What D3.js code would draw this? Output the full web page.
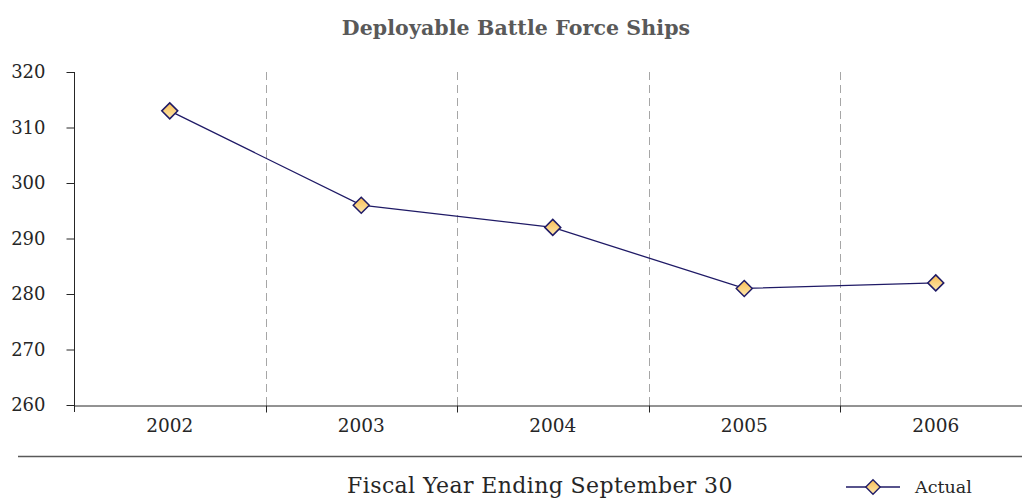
<!DOCTYPE html>
<html>
<head>
<meta charset="utf-8">
<script src="https://cdn.jsdelivr.net/npm/d3@7"></script>
<style>
  body { margin: 0; background: #fff; }
  text { font-family: "DejaVu Serif", serif; }
</style>
</head>
<body>
<svg id="chart" width="1022" height="501"></svg>
<script>
const years = ['2002', '2003', '2004', '2005', '2006'];
const actual = [313, 296, 292, 281, 282];
const yTicks = [260, 270, 280, 290, 300, 310, 320];

const svg = d3.select('#chart');
const margin = { left: 74, top: 72, bottom: 405 };
const bandW = 191.5;

const x = d3.scaleBand()
  .domain(years)
  .range([margin.left, margin.left + bandW * years.length]);
const y = d3.scaleLinear().domain([260, 320]).range([margin.bottom, margin.top]);

// gradient for the diamond markers
const grad = svg.append('defs').append('linearGradient')
  .attr('id', 'mk').attr('x1', 0).attr('y1', 0).attr('x2', 0).attr('y2', 1);
grad.append('stop').attr('offset', '0%').attr('stop-color', '#f9bd55');
grad.append('stop').attr('offset', '100%').attr('stop-color', '#fde8ae');

// title
svg.append('text')
  .attr('x', 516).attr('y', 35)
  .attr('text-anchor', 'middle')
  .attr('font-size', 20.5).attr('font-weight', 'bold')
  .attr('letter-spacing', 0.1)
  .attr('fill', '#595959')
  .text('Deployable Battle Force Ships');

// dashed dividers between categories
svg.append('g')
  .selectAll('line')
  .data(years.slice(1))
  .join('line')
    .attr('x1', (d) => Math.round(x(d)) + 0.5)
    .attr('x2', (d) => Math.round(x(d)) + 0.5)
    .attr('y1', margin.top)
    .attr('y2', margin.bottom)
    .attr('stroke', '#a6a6a6')
    .attr('stroke-dasharray', '8,5');

// y axis
const yAxis = svg.append('g')
  .attr('transform', `translate(${margin.left + 0.5},0)`)
  .call(d3.axisLeft(y).tickValues(yTicks).tickSize(8).tickPadding(21));
yAxis.select('.domain').attr('stroke', '#262626').attr('d', `M0,${margin.top}V${margin.bottom + 7}`);
yAxis.selectAll('.tick line').attr('stroke', '#262626');
yAxis.selectAll('text')
  .attr('font-size', 18).attr('fill', '#262626')
  .attr('font-family', '"DejaVu Serif", serif');

// x axis
const xAxis = svg.append('g')
  .attr('transform', `translate(0,${margin.bottom + 0.5})`)
  .call(d3.axisBottom(x).tickSize(0).tickPadding(13));
xAxis.select('.domain').attr('stroke', '#262626');
xAxis.selectAll('text')
  .attr('font-size', 18.5).attr('fill', '#262626')
  .attr('font-family', '"DejaVu Serif", serif');
xAxis.selectAll('.divtick')
  .data(years.slice(1))
  .join('line')
    .attr('class', 'divtick')
    .attr('x1', (d) => Math.round(x(d)) + 0.5)
    .attr('x2', (d) => Math.round(x(d)) + 0.5)
    .attr('y1', 0).attr('y2', 7)
    .attr('stroke', '#262626');

// series line
const cx = (d, i) => x(years[i]) + x.bandwidth() / 2;
svg.append('path')
  .datum(actual)
  .attr('fill', 'none')
  .attr('stroke', '#1f1a66')
  .attr('stroke-width', 1.3)
  .attr('d', d3.line().x(cx).y((d) => y(d)));

const diamond = 'M0,-8L8,0L0,8L-8,0Z';
svg.append('g')
  .selectAll('path')
  .data(actual)
  .join('path')
    .attr('transform', (d, i) => `translate(${cx(d, i)},${y(d)})`)
    .attr('d', diamond)
    .attr('fill', 'url(#mk)')
    .attr('stroke', '#1f1a66')
    .attr('stroke-width', 1.5);

// separator
svg.append('line')
  .attr('x1', 18).attr('x2', 1022)
  .attr('y1', 456.5).attr('y2', 456.5)
  .attr('stroke', '#595959').attr('stroke-width', 1.5);

// x axis title
svg.append('text')
  .attr('x', 540).attr('y', 493)
  .attr('text-anchor', 'middle')
  .attr('font-size', 22).attr('fill', '#262626')
  .attr('letter-spacing', 0.4)
  .text('Fiscal Year Ending September 30');

// legend
const lg = svg.append('g').attr('transform', 'translate(846,487)');
lg.append('line').attr('x1', 0).attr('x2', 54).attr('stroke', '#1f1a66').attr('stroke-width', 1.3);
lg.append('path').attr('d', diamond).attr('transform', 'translate(27,0) scale(0.9)')
  .attr('fill', 'url(#mk)').attr('stroke', '#1f1a66').attr('stroke-width', 1.5);
lg.append('text').attr('x', 69).attr('y', 6)
  .attr('font-size', 17.5).attr('fill', '#262626')
  .text('Actual');
</script>
</body>
</html>
